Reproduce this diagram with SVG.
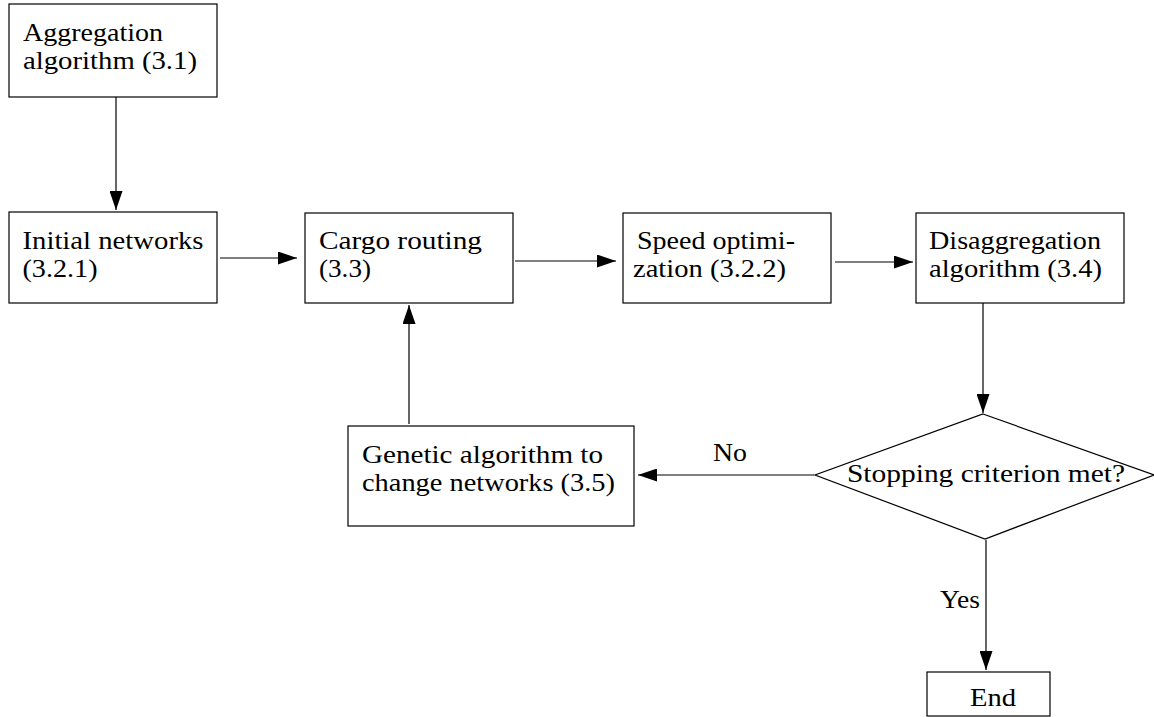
<svg xmlns="http://www.w3.org/2000/svg" width="1154" height="717" viewBox="0 0 1154 717">
<defs>
<marker id="ah" markerWidth="19" markerHeight="13" refX="19" refY="6.5" orient="auto" markerUnits="userSpaceOnUse">
<path d="M0,0 L19,6.5 L0,13 Z" fill="#000"/>
</marker>
<style>
.box{fill:#fff;stroke:#000;stroke-width:1.2}
.t{font-family:"Liberation Serif","DejaVu Serif",serif;font-size:25px;fill:#000}
.c{stroke:#000;stroke-width:1.2;fill:none;marker-end:url(#ah)}
</style>
</defs>
<rect width="1154" height="717" fill="#fff"/>
<g id="connectors">
<line class="c" x1="116" y1="97" x2="116" y2="210"/>
<line class="c" x1="220" y1="258" x2="297" y2="258"/>
<line class="c" x1="515" y1="261" x2="616" y2="261"/>
<line class="c" x1="835" y1="262" x2="913" y2="262"/>
<line class="c" x1="983" y1="303" x2="983" y2="413"/>
<line class="c" x1="814" y1="475" x2="638" y2="475"/>
<line class="c" x1="409" y1="424" x2="409" y2="305"/>
<line class="c" x1="986" y1="540" x2="986" y2="670"/>
<text class="t" x="713" y="461" textLength="34" lengthAdjust="spacingAndGlyphs">No</text>
<text class="t" x="940" y="608" textLength="40" lengthAdjust="spacingAndGlyphs">Yes</text>
</g>
<g id="n1"><rect class="box" x="9" y="4" width="208" height="93"/><text class="t" x="23" y="41" textLength="140" lengthAdjust="spacingAndGlyphs">Aggregation</text><text class="t" x="23" y="69" textLength="174" lengthAdjust="spacingAndGlyphs">algorithm (3.1)</text></g>
<g id="n2"><rect class="box" x="9" y="212" width="208" height="91"/><text class="t" x="22.5" y="249" textLength="181" lengthAdjust="spacingAndGlyphs">Initial networks</text><text class="t" x="22.5" y="277" textLength="75" lengthAdjust="spacingAndGlyphs">(3.2.1)</text></g>
<g id="n3"><rect class="box" x="305" y="213" width="208" height="90"/><text class="t" x="319" y="249" textLength="163" lengthAdjust="spacingAndGlyphs">Cargo routing</text><text class="t" x="319" y="277" textLength="52" lengthAdjust="spacingAndGlyphs">(3.3)</text></g>
<g id="n4"><rect class="box" x="623" y="213" width="208" height="90"/><text class="t" x="637" y="249" textLength="158" lengthAdjust="spacingAndGlyphs">Speed optimi-</text><text class="t" x="633" y="277" textLength="153" lengthAdjust="spacingAndGlyphs">zation (3.2.2)</text></g>
<g id="n5"><rect class="box" x="916" y="213" width="208" height="90"/><text class="t" x="929" y="249" textLength="172" lengthAdjust="spacingAndGlyphs">Disaggregation</text><text class="t" x="929" y="277" textLength="173" lengthAdjust="spacingAndGlyphs">algorithm (3.4)</text></g>
<g id="n6"><path class="box" d="M983,414 L1154,475 L985,539 L815,475 Z"/><text class="t" x="847" y="482" textLength="278" lengthAdjust="spacingAndGlyphs">Stopping criterion met?</text></g>
<g id="n7"><rect class="box" x="348" y="426" width="286" height="100"/><text class="t" x="362" y="463" textLength="241" lengthAdjust="spacingAndGlyphs">Genetic algorithm to</text><text class="t" x="362" y="491" textLength="253" lengthAdjust="spacingAndGlyphs">change networks (3.5)</text></g>
<g id="n8"><rect class="box" x="927" y="672" width="123" height="44"/><text class="t" x="970" y="706" textLength="46" lengthAdjust="spacingAndGlyphs">End</text></g>
</svg>
